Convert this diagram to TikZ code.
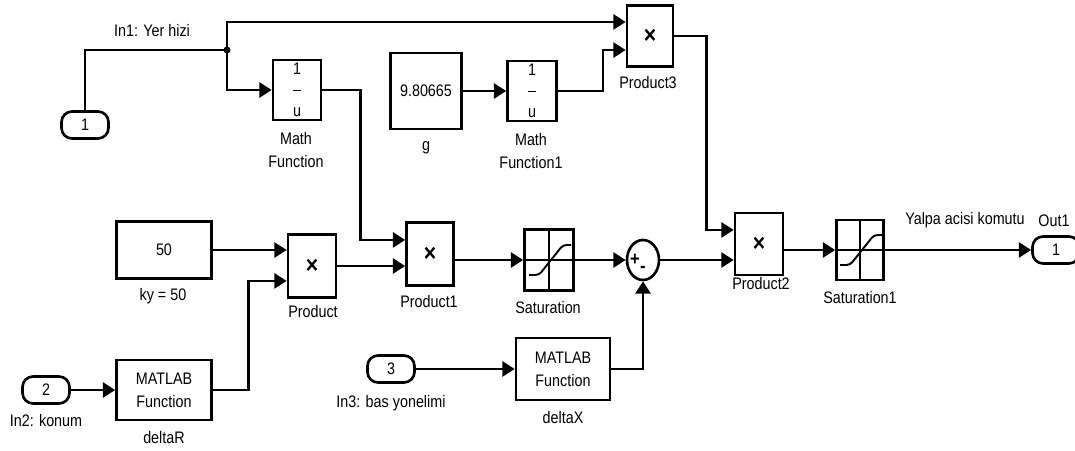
\documentclass[tikz,border=0pt]{standalone}
\usepackage{fontspec}
\setmainfont{Liberation Sans}[FakeStretch=0.86]
\usetikzlibrary{arrows.meta, shapes.geometric}

\newcommand{\prodsym}{{\fontsize{14}{14}\selectfont\bfseries ×}}

\begin{document}
\begin{tikzpicture}[>={Triangle[length=7pt, width=8.5pt]}, x=0.02cm, y=-0.02cm,
    line width=1.5pt, font=\fontsize{9.5}{13}\selectfont,
    blk/.style={draw, line width=1.5pt, inner sep=0pt, align=center},
    port/.style={draw, line width=1.5pt, rounded corners=6pt, inner sep=0pt,
        minimum width=0.94cm, minimum height=0.54cm},
    lbl/.style={inner sep=0pt, anchor=base},
    sig/.style={->, line width=1.5pt}]

    \useasboundingbox (0,0) rectangle (1075,450);

    % Blocks
    \node[port] (in1) at (85,125) {1};
    \node[blk, minimum width=0.96cm, minimum height=1.2cm] (mf) at (297,90)
        {1\\[-1pt]\rule[2.5pt]{5pt}{1pt}\\[-1pt]u};
    \node[blk, minimum width=1.42cm, minimum height=1.52cm] (g) at (426,91) {9.80665};
    \node[blk, minimum width=0.98cm, minimum height=1.2cm] (mf1) at (532,91)
        {1\\[-1pt]\rule[2.5pt]{5pt}{1pt}\\[-1pt]u};
    \node[blk, minimum width=0.92cm, minimum height=1.22cm] (p3) at (650,36) {\prodsym};
    \node[blk, minimum width=1.9cm, minimum height=1.14cm] (k50) at (164,250) {50};
    \node[blk, minimum width=0.96cm, minimum height=1.26cm] (prod) at (312,266) {\prodsym};
    \node[port] (in2) at (46,390) {2};
    \node[blk, minimum width=1.9cm, minimum height=1.2cm] (dR) at (164,390) {MATLAB\\Function};
    \node[blk, minimum width=0.94cm, minimum height=1.26cm] (p1) at (430,254) {\prodsym};
    \node[blk, minimum width=0.98cm, minimum height=1.22cm] (sat) at (549,260) {};
    \node[draw, ellipse, line width=1.5pt, inner sep=0pt,
        minimum width=0.64cm, minimum height=0.8cm] (sum) at (643,260) {};
    \node[port] (in3) at (391,369) {3};
    \node[blk, minimum width=1.88cm, minimum height=1.24cm] (dX) at (563,369) {MATLAB\\Function};
    \node[blk, minimum width=0.96cm, minimum height=1.24cm] (p2) at (759,244) {\prodsym};
    \node[blk, minimum width=0.94cm, minimum height=1.2cm] (sat1) at (860,250) {};
    \node[port] (out1) at (1056,250) {1};

    % Saturation icons
    \foreach \s in {sat, sat1} {
        \draw[line width=1.1pt] (\s.north) -- (\s.south) (\s.west) -- (\s.east);
        \draw[line width=1.1pt, rounded corners=2pt] ([shift={(-20,15)}]\s.center)
            -- ++(10,0) -- ++(24,-30) -- ++(8,0);
    }

    % Sum signs
    \node[font=\fontsize{11}{11}\selectfont\bfseries] (sum-p) at ([shift={(-8,0)}]sum.center) {+};
    \node[font=\fontsize{11}{11}\selectfont\bfseries] (sum-m) at ([shift={(0,9)}]sum.center) {-};

    % Signals
    \coordinate (jn) at (227,50);
    \draw (in1.north) |- (jn);
    \fill (jn) circle (2pt);
    \draw[sig] (jn) |- ([yshift=8pt]p3.west);
    \draw[sig] (jn) |- (mf.west);
    \draw[sig] (mf.east) -- ++(38,0) |- ([yshift=8pt]p1.west);
    \draw[sig] (g.east) -- (mf1.west);
    \draw[sig] (mf1.east) -- ++(45,0) |- ([yshift=-8pt]p3.west);
    \draw[sig] (p3.east) -- ++(32,0) |- ([yshift=8pt]p2.west);
    \draw[sig] (k50.east) -- (prod.west |- k50.east);
    \draw[sig] (in2.east) -- (dR.west);
    \draw[sig] (dR.east) -- ++(36,0) |- ([yshift=-8.5pt]prod.west);
    \draw[sig] (prod.east) -- (prod.east -| p1.west);
    \draw[sig] (p1.east |- sat.west) -- (sat.west);
    \draw[sig] (sat.east) -- (sum.west);
    \draw[sig] (sum.east) -- (sum.east -| p2.west);
    \draw[sig] (p2.east |- sat1.west) -- (sat1.west);
    \draw[sig] (sat1.east) -- (out1.west);
    \draw[sig] (in3.east) -- (dX.west);
    \draw[sig] (dX.east) -| (sum.south);

    % Labels
    \node[lbl] (in1-lbl) at (152,36) {In1: Yer hizi};
    \node[lbl, anchor=north, align=center] (mf-lbl) at (296,131) {Math\\Function};
    \node[lbl] (g-lbl) at (426,150) {g};
    \node[lbl, anchor=north, align=center] (mf1-lbl) at (531,132) {Math\\Function1};
    \node[lbl] (p3-lbl) at (648,88) {Product3};
    \node[lbl] (k50-lbl) at (163,300) {ky = 50};
    \node[lbl] (prod-lbl) at (313,317) {Product};
    \node[lbl] (dR-lbl) at (164,443) {deltaR};
    \node[lbl] (in2-lbl) at (46,426) {In2: konum};
    \node[lbl] (p1-lbl) at (429,307) {Product1};
    \node[lbl] (sat-lbl) at (548,313) {Saturation};
    \node[lbl] (in3-lbl) at (391,407) {In3: bas yonelimi};
    \node[lbl] (dX-lbl) at (563,423) {deltaX};
    \node[lbl] (p2-lbl) at (761,289) {Product2};
    \node[lbl] (sat1-lbl) at (860,303) {Saturation1};
    \node[lbl] (out-lbl) at (965,224) {Yalpa acisi komutu};
    \node[lbl] (out1-lbl) at (1054,226) {Out1};

\end{tikzpicture}
\end{document}
